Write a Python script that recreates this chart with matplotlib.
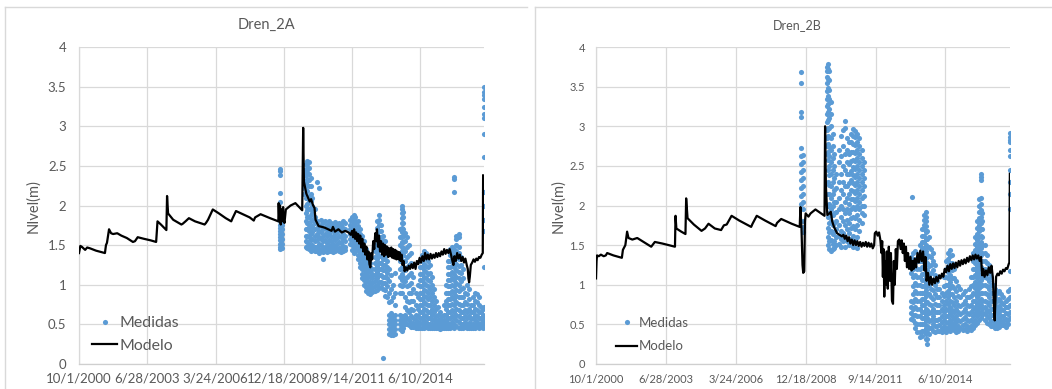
"""Dren_2A / Dren_2B — measured vs modelled water level."""
import matplotlib
matplotlib.use("Agg")
import matplotlib.pyplot as plt
from matplotlib.lines import Line2D

plt.rcParams["font.family"] = ["Lato", "DejaVu Sans"]

W, H = 1052, 389
BLUE = "#5b9bd5"
TEXT = "#595959"
GRID = "#d9d9d9"

# x axis: days since 10/1/2000 (Excel date axis, major unit 1000 days)
TICK_DAYS = [0, 1000, 2000, 3000, 4000, 5000]
TICK_LABELS = ["10/1/2000", "6/28/2003", "3/24/2006", "12/18/2008", "9/14/2011", "6/10/2014"]
Y_TICKS = [0, 0.5, 1, 1.5, 2, 2.5, 3, 3.5, 4]
Y_LABELS = ["0", "0.5", "1", "1.5", "2", "2.5", "3", "3.5", "4"]

# ---- Dren_2A ----
MODELO_2A = [
    (0, 1.40), (20, 1.49), (40, 1.48), (90, 1.44), (120, 1.47), (160, 1.46), (250, 1.43),
    (380, 1.40), (395, 1.50), (410, 1.53), (440, 1.70), (470, 1.65), (500, 1.64), (560, 1.65),
    (620, 1.62), (700, 1.59), (790, 1.54), (820, 1.55), (860, 1.60), (950, 1.58), (1050, 1.56),
    (1130, 1.54), (1150, 1.80), (1200, 1.76), (1280, 1.69), (1290, 2.12), (1305, 1.90),
    (1380, 1.82), (1500, 1.76), (1520, 1.77), (1560, 1.80), (1610, 1.84), (1700, 1.80),
    (1840, 1.76), (1860, 1.78), (1890, 1.82), (1960, 1.95), (2050, 1.90), (2150, 1.84),
    (2230, 1.80), (2250, 1.84), (2300, 1.93), (2400, 1.89), (2500, 1.85), (2560, 1.81),
    (2580, 1.85), (2660, 1.89), (2800, 1.84), (2920, 1.80), (2925, 2.03), (2935, 1.80),
    (2945, 2.00), (2955, 1.76), (2965, 1.95), (2975, 1.80), (2990, 1.98), (3000, 1.82),
    (3010, 1.78), (3030, 1.95), (3100, 2.00), (3170, 2.03), (3270, 1.94), (3284, 2.98),
    (3295, 2.30), (3330, 2.15), (3380, 2.05), (3400, 2.08), (3430, 2.00), (3450, 1.97),
    (3465, 1.82), (3510, 1.74), (3560, 1.73), (3600, 1.72), (3650, 1.70), (3700, 1.68),
    (3720, 1.73), (3750, 1.67), (3800, 1.70), (3850, 1.66), (3900, 1.68), (3950, 1.66),
    (3980, 1.63),
    (4000, 1.68), (4015, 1.60), (4030, 1.70), (4045, 1.58), (4060, 1.66), (4075, 1.55),
    (4090, 1.64), (4105, 1.52), (4120, 1.62), (4135, 1.47), (4150, 1.58), (4165, 1.42),
    (4180, 1.52), (4195, 1.38), (4210, 1.48), (4225, 1.32), (4240, 1.42), (4255, 1.26),
    (4268, 1.22), (4280, 1.40), (4295, 1.32), (4310, 1.55), (4325, 1.45), (4340, 1.65),
    (4355, 1.55), (4365, 1.70), (4380, 1.48), (4395, 1.62), (4410, 1.42), (4425, 1.55),
    (4440, 1.38), (4455, 1.52), (4470, 1.36), (4485, 1.50), (4500, 1.38), (4515, 1.48),
    (4530, 1.35), (4545, 1.46), (4560, 1.36), (4575, 1.47), (4590, 1.34), (4605, 1.45),
    (4620, 1.33), (4635, 1.44), (4650, 1.32), (4665, 1.42), (4680, 1.32), (4695, 1.41),
    (4710, 1.30), (4725, 1.38), (4740, 1.25), (4755, 1.30), (4770, 1.17), (4790, 1.22),
    (4810, 1.18), (4830, 1.24), (4850, 1.20), (4870, 1.26), (4890, 1.21), (4910, 1.28),
    (4930, 1.20), (4950, 1.30), (4970, 1.26), (4990, 1.34), (5010, 1.28), (5030, 1.36),
    (5050, 1.30), (5070, 1.40), (5090, 1.32), (5110, 1.38), (5130, 1.32), (5150, 1.39),
    (5170, 1.33), (5190, 1.38), (5210, 1.34), (5230, 1.40), (5250, 1.35), (5270, 1.40),
    (5290, 1.36), (5310, 1.42), (5330, 1.38), (5350, 1.45), (5370, 1.39), (5390, 1.44),
    (5410, 1.40), (5430, 1.45), (5450, 1.38), (5470, 1.30), (5485, 1.25), (5500, 1.36),
    (5520, 1.30), (5540, 1.40), (5560, 1.33), (5580, 1.38), (5600, 1.30), (5620, 1.35),
    (5640, 1.28), (5660, 1.33), (5680, 1.25), (5695, 1.20), (5705, 1.08), (5715, 1.03),
    (5725, 1.10), (5740, 1.25), (5760, 1.28), (5780, 1.32), (5800, 1.29), (5820, 1.33),
    (5840, 1.31), (5860, 1.35), (5880, 1.34), (5900, 1.38), (5915, 1.40), (5920, 2.38),
]

# measured points, grouped by day: (day, [levels])
MEDIDAS_2A = [
    (2938, [2.46, 2.44, 2.38, 2.16, 2.04, 1.80, 1.76, 1.72, 1.68, 1.64, 1.60, 1.56, 1.52, 1.48, 1.45]),
    (2960, [1.78, 1.72, 1.66, 1.60, 1.55, 1.50, 1.46]),
    (2980, [1.75, 1.70, 1.64, 1.58, 1.52, 1.47]),
    (3300, [2.45, 2.38, 2.30, 2.22, 2.15]),
    (3320, [2.52, 2.45, 2.38, 2.30, 2.20, 2.10, 2.00, 1.90, 1.80, 1.70, 1.62, 1.55, 1.48]),
    (3345, [2.56, 2.50, 2.42, 2.34, 2.26, 2.18, 2.10, 2.02, 1.94, 1.86, 1.78, 1.70, 1.62, 1.54, 1.46]),
    (3370, [2.55, 2.47, 2.40, 2.32, 2.24, 2.12, 2.05, 1.95, 1.85, 1.76, 1.68, 1.60, 1.52, 1.45]),
    (3395, [2.35, 2.25, 2.15, 2.06, 1.96, 1.88, 1.80, 1.72, 1.64, 1.56, 1.48, 1.43]),
    (3420, [2.10, 2.00, 1.90, 1.82, 1.74, 1.66, 1.58, 1.50, 1.44]),
    (3450, [1.95, 1.85, 1.78, 1.70, 1.62, 1.55, 1.48, 1.42]),
    (3480, [2.30, 1.80, 1.72, 1.64, 1.56, 1.48, 1.42]),
    (3510, [2.22, 1.75, 1.68, 1.60, 1.52, 1.45, 1.40]),
    (3540, [1.82, 1.74, 1.66, 1.58, 1.50, 1.43]),
    (3570, [1.78, 1.70, 1.62, 1.55, 1.47, 1.41, 1.32]),
    (3600, [1.80, 1.72, 1.64, 1.56, 1.48, 1.42]),
    (3630, [1.76, 1.69, 1.61, 1.53, 1.46, 1.41]),
    (3660, [1.80, 1.73, 1.65, 1.57, 1.50, 1.43]),
    (3690, [1.78, 1.70, 1.62, 1.55, 1.48, 1.42]),
    (3720, [1.76, 1.68, 1.60, 1.52, 1.45, 1.41]),
    (3750, [1.79, 1.72, 1.64, 1.56, 1.48, 1.42]),
    (3780, [1.75, 1.67, 1.59, 1.52, 1.45]),
    (3810, [1.78, 1.70, 1.62, 1.54, 1.47, 1.42]),
    (3840, [1.76, 1.68, 1.60, 1.53, 1.46, 1.41]),
    (3870, [1.80, 1.72, 1.64, 1.56, 1.49, 1.43]),
    (3895, [1.78, 1.70, 1.62, 1.55, 1.48, 1.44]),
    (3975, [1.82, 1.76, 1.70, 1.64, 1.58, 1.52]),
    (4000, [1.86, 1.80, 1.74, 1.68, 1.62, 1.56, 1.50, 1.44]),
    (4025, [1.88, 1.82, 1.76, 1.70, 1.64, 1.58, 1.52, 1.46, 1.40]),
    (4050, [1.85, 1.78, 1.72, 1.66, 1.60, 1.54, 1.48, 1.42]),
    (4080, [1.80, 1.74, 1.68, 1.62, 1.56, 1.50, 1.44, 1.38, 1.32]),
    (4110, [1.70, 1.64, 1.58, 1.52, 1.46, 1.40, 1.34, 1.28, 1.22]),
    (4140, [1.62, 1.56, 1.50, 1.44, 1.38, 1.32, 1.26, 1.20, 1.14, 1.08]),
    (4170, [1.55, 1.48, 1.42, 1.36, 1.30, 1.24, 1.18, 1.12, 1.06, 1.00]),
    (4200, [1.45, 1.39, 1.33, 1.27, 1.21, 1.15, 1.09, 1.03, 0.97, 0.92]),
    (4230, [1.35, 1.29, 1.23, 1.17, 1.11, 1.05, 0.99, 0.94, 0.90]),
    (4260, [1.28, 1.22, 1.16, 1.10, 1.04, 0.98, 0.93, 0.88]),
    (4290, [1.20, 1.14, 1.08, 1.02, 0.96, 0.91]),
    (4330, [1.50, 1.42, 1.35, 1.28, 1.20, 1.12, 1.05, 0.98, 0.92]),
    (4360, [1.80, 1.72, 1.64, 1.56, 1.48, 1.40, 1.32, 1.24, 1.16, 1.08, 1.00, 0.93]),
    (4390, [1.88, 1.82, 1.75, 1.68, 1.60, 1.52, 1.44, 1.36, 1.28, 1.20, 1.12, 1.04, 0.96]),
    (4420, [1.75, 1.68, 1.60, 1.52, 1.44, 1.36, 1.28, 1.20, 1.12, 1.04, 0.97]),
    (4450, [1.62, 1.55, 1.48, 1.40, 1.32, 1.25, 1.18, 1.10, 1.02, 0.95, 0.07]),
    (4480, [1.55, 1.48, 1.40, 1.32, 1.25, 1.18, 1.10, 1.02, 0.94, 0.86]),
    (4510, [1.45, 1.38, 1.30, 1.22, 1.15, 1.08, 0.98, 0.85]),
    (4540, [1.20, 1.05, 0.90, 0.78, 0.62, 0.56, 0.50, 0.44, 0.38]),
    (4570, [1.12, 0.95, 0.80, 0.64, 0.58, 0.52, 0.46, 0.40, 0.36]),
    (4600, [1.00, 0.85, 0.60, 0.54, 0.48, 0.42, 0.37]),
    (4630, [1.15, 0.90, 0.75, 0.62, 0.56, 0.50, 0.44, 0.38]),
    (4700, [1.70, 1.60, 1.50, 1.40, 1.30, 1.20, 1.10, 1.00, 0.90, 0.62, 0.56, 0.50, 0.44]),
    (4725, [2.00, 1.95, 1.90, 1.84, 1.78, 1.72, 1.66, 1.60, 1.54, 1.48, 1.42, 1.36, 1.30, 1.22,
            1.14, 1.06, 0.98, 0.90, 0.60, 0.54, 0.48, 0.42]),
    (4750, [1.92, 1.85, 1.78, 1.70, 1.62, 1.54, 1.46, 1.38, 1.30, 1.20, 1.10, 1.00, 0.58, 0.52, 0.46]),
    (4780, [1.65, 1.55, 1.42, 1.30, 1.18, 1.05, 0.85, 0.72, 0.62, 0.55, 0.50]),
    (4810, [1.60, 1.48, 1.35, 1.22, 1.10, 0.98, 0.80, 0.68, 0.58, 0.50]),
    (4840, [1.50, 1.38, 1.25, 1.12, 1.00, 0.90, 0.78, 0.66, 0.56, 0.49]),
    (4870, [1.40, 1.28, 1.15, 1.02, 0.90, 0.80, 0.70, 0.60, 0.52, 0.47]),
    (4900, [1.10, 0.95, 0.80, 0.68, 0.58, 0.52, 0.47]),
    (4930, [0.90, 0.75, 0.62, 0.55, 0.50, 0.46]),
    (4960, [1.00, 0.85, 0.70, 0.60, 0.53, 0.48, 0.45]),
    (4990, [1.30, 1.22, 1.14, 1.06, 0.98, 0.90, 0.82, 0.74, 0.66, 0.58, 0.52, 0.46]),
    (5020, [1.38, 1.30, 1.22, 1.14, 1.06, 0.98, 0.90, 0.82, 0.74, 0.66, 0.58, 0.52, 0.46]),
    (5050, [1.42, 1.34, 1.26, 1.18, 1.10, 1.02, 0.94, 0.86, 0.78, 0.70, 0.62, 0.55, 0.49, 0.45]),
    (5080, [1.40, 1.32, 1.24, 1.16, 1.08, 1.00, 0.92, 0.84, 0.76, 0.68, 0.60, 0.53, 0.47]),
    (5110, [1.30, 1.22, 1.14, 1.06, 0.98, 0.90, 0.82, 0.74, 0.66, 0.58, 0.51, 0.46]),
    (5140, [1.25, 1.15, 1.05, 0.95, 0.85, 0.75, 0.66, 0.58, 0.51, 0.45]),
    (5170, [1.10, 1.00, 0.90, 0.80, 0.70, 0.62, 0.55, 0.49, 0.45]),
    (5200, [0.95, 0.85, 0.75, 0.65, 0.57, 0.50, 0.46]),
    (5230, [0.80, 0.70, 0.60, 0.53, 0.48, 0.45]),
    (5260, [0.72, 0.62, 0.55, 0.50, 0.46]),
    (5290, [0.65, 0.57, 0.51, 0.47, 0.44]),
    (5320, [0.60, 0.54, 0.49, 0.45]),
    (5350, [0.75, 0.62, 0.55, 0.50, 0.46]),
    (5380, [1.00, 0.90, 0.80, 0.70, 0.62, 0.55, 0.50, 0.45]),
    (5410, [1.30, 1.22, 1.14, 1.06, 0.98, 0.90, 0.82, 0.74, 0.66, 0.58, 0.52, 0.46]),
    (5440, [1.45, 1.38, 1.30, 1.22, 1.14, 1.06, 0.98, 0.90, 0.82, 0.74, 0.66, 0.58, 0.51, 0.45]),
    (5470, [1.48, 1.40, 1.32, 1.24, 1.16, 1.08, 1.00, 0.92, 0.84, 0.76, 0.68, 0.60, 0.53, 0.47]),
    (5500, [2.36, 2.33, 2.17, 1.45, 1.38, 1.30, 1.22, 1.14, 1.06, 0.98, 0.90, 0.82, 0.74, 0.66,
            0.58, 0.51, 0.45]),
    (5530, [1.62, 1.58, 1.50, 1.42, 1.34, 1.26, 1.18, 1.10, 1.02, 0.94, 0.86, 0.78, 0.70, 0.62, 0.55, 0.48]),
    (5560, [1.64, 1.60, 1.48, 1.40, 1.32, 1.24, 1.16, 1.08, 1.00, 0.92, 0.84, 0.76, 0.68, 0.60, 0.53, 0.46]),
    (5590, [1.35, 1.25, 1.15, 1.05, 0.95, 0.85, 0.75, 0.66, 0.58, 0.51, 0.45]),
    (5620, [1.20, 1.08, 0.96, 0.85, 0.75, 0.66, 0.58, 0.51, 0.46]),
    (5650, [0.90, 0.78, 0.68, 0.60, 0.53, 0.47]),
    (5680, [1.00, 0.88, 0.76, 0.66, 0.58, 0.51, 0.46]),
    (5710, [0.95, 0.82, 0.70, 0.60, 0.52, 0.46]),
    (5740, [0.75, 0.65, 0.57, 0.50, 0.46]),
    (5770, [0.85, 0.75, 0.66, 0.58, 0.51, 0.46]),
    (5800, [0.90, 0.80, 0.70, 0.62, 0.55, 0.49, 0.45]),
    (5830, [0.88, 0.78, 0.68, 0.60, 0.53, 0.48]),
    (5860, [0.85, 0.75, 0.66, 0.58, 0.51, 0.46]),
    (5890, [0.72, 0.65, 0.58, 0.52, 0.47]),
    (5915, [0.70, 0.62, 0.55, 0.50, 0.46]),
    (5930, [3.50, 3.43, 3.40, 3.35, 3.24, 3.16, 3.10, 2.90, 2.61, 2.17, 2.00, 1.82, 1.68, 1.22,
            0.72, 0.60, 0.52]),
]

# ---- Dren_2B ----
MODELO_2B = [
    (0, 1.08), (8, 1.30), (15, 1.37), (40, 1.36), (70, 1.38), (110, 1.36), (140, 1.37), (160, 1.40),
    (250, 1.37), (370, 1.34), (385, 1.44), (420, 1.50), (445, 1.67), (465, 1.59), (520, 1.57),
    (590, 1.59), (700, 1.53), (790, 1.48), (842, 1.54), (950, 1.52), (1130, 1.48), (1138, 1.87),
    (1150, 1.71), (1220, 1.67), (1280, 1.64), (1290, 2.09), (1310, 1.84), (1400, 1.76),
    (1510, 1.68), (1560, 1.71), (1610, 1.77), (1700, 1.71), (1790, 1.69), (1830, 1.75),
    (1870, 1.76), (1940, 1.87), (2050, 1.81), (2220, 1.73), (2240, 1.77), (2300, 1.87),
    (2420, 1.81), (2570, 1.74), (2590, 1.78), (2650, 1.83), (2800, 1.77), (2915, 1.73),
    (2925, 1.98), (2940, 1.72), (2955, 1.25), (2965, 1.15), (2980, 1.17), (2990, 1.80),
    (3000, 1.90), (3040, 1.86), (3070, 1.90), (3140, 1.95), (3270, 1.87), (3278, 3.00),
    (3290, 2.24), (3310, 1.88), (3340, 1.90), (3360, 1.92), (3380, 1.80), (3405, 1.73),
    (3450, 1.65), (3520, 1.61), (3540, 1.63), (3560, 1.58), (3580, 1.62), (3600, 1.55),
    (3620, 1.60), (3640, 1.52), (3660, 1.57), (3680, 1.50), (3700, 1.56), (3720, 1.50),
    (3740, 1.55), (3760, 1.49), (3780, 1.54), (3800, 1.48), (3820, 1.53), (3840, 1.49),
    (3860, 1.54), (3880, 1.48), (3900, 1.53), (3920, 1.48), (3940, 1.52), (3960, 1.46),
    (3980, 1.50), (3990, 1.65), (4010, 1.67), (4030, 1.62), (4050, 1.66), (4070, 1.56),
    (4085, 1.40), (4095, 1.55), (4105, 1.10), (4115, 1.45), (4125, 0.85), (4135, 1.30),
    (4145, 1.00), (4160, 1.42), (4175, 0.95), (4190, 1.48), (4205, 1.05), (4220, 1.40),
    (4235, 0.80), (4250, 0.76), (4262, 1.30), (4275, 1.00), (4290, 1.45), (4305, 1.20),
    (4320, 1.55), (4340, 1.57), (4360, 1.45), (4375, 1.56), (4390, 1.40), (4405, 1.52),
    (4420, 1.30), (4435, 1.48), (4450, 1.22), (4465, 1.40), (4480, 1.20), (4500, 1.35),
    (4515, 1.18), (4530, 1.30), (4545, 1.20), (4560, 1.33), (4580, 1.22), (4600, 1.40),
    (4620, 1.28), (4640, 1.43), (4660, 1.30), (4680, 1.42), (4700, 1.18), (4715, 1.35),
    (4730, 1.05), (4750, 1.15), (4770, 1.00), (4790, 1.10), (4810, 1.00), (4830, 1.08),
    (4850, 1.02), (4870, 1.10), (4890, 1.04), (4910, 1.12), (4930, 1.08), (4950, 1.14),
    (4970, 1.10), (4990, 1.20), (5010, 1.16), (5030, 1.24), (5050, 1.17), (5070, 1.26),
    (5090, 1.20), (5110, 1.27), (5130, 1.21), (5150, 1.28), (5170, 1.22), (5190, 1.30),
    (5210, 1.24), (5230, 1.31), (5250, 1.26), (5270, 1.32), (5290, 1.27), (5310, 1.34),
    (5330, 1.29), (5350, 1.36), (5370, 1.31), (5390, 1.37), (5410, 1.32), (5430, 1.38),
    (5450, 1.33), (5470, 1.37), (5490, 1.30), (5510, 1.35), (5525, 1.12), (5540, 1.20),
    (5560, 1.10), (5580, 1.18), (5600, 1.12), (5620, 1.22), (5640, 1.15), (5660, 1.24),
    (5680, 1.08), (5695, 0.70), (5705, 0.55), (5715, 0.80), (5725, 1.10), (5745, 1.14),
    (5765, 1.12), (5785, 1.17), (5805, 1.14), (5825, 1.19), (5845, 1.17), (5865, 1.21),
    (5885, 1.20), (5905, 1.26), (5915, 1.28), (5922, 2.40),
]

MEDIDAS_2B = [
    (2940, [3.69, 3.55, 3.18, 3.12, 2.72, 2.62, 2.52, 2.42, 2.32, 2.22, 2.12, 2.02]),
    (2955, [2.64, 2.55, 2.45, 2.35, 2.25, 2.15, 2.05, 1.95, 1.80, 1.73, 1.67]),
    (3300, [3.75, 3.70, 3.62, 3.55, 3.45, 3.35, 3.25, 3.15, 3.05, 2.95, 2.85, 2.75, 2.65]),
    (3320, [3.78, 3.72, 3.60, 3.48, 3.38, 3.28, 3.18, 3.08, 2.98, 2.88, 2.78, 2.68, 2.58, 2.45,
            2.30, 2.15, 2.00, 1.85, 1.72, 1.60, 1.50]),
    (3340, [3.70, 3.58, 3.46, 3.34, 3.22, 3.10, 2.98, 2.86, 2.74, 2.62, 2.50, 2.38, 2.26, 2.14,
            2.02, 1.90, 1.78, 1.66, 1.55, 1.45]),
    (3360, [3.30, 3.15, 3.00, 2.85, 2.70, 2.55, 2.40, 2.25, 2.10, 1.95, 1.80, 1.68, 1.56, 1.42]),
    (3385, [2.90, 2.75, 2.60, 2.45, 2.30, 2.15, 2.00, 1.88, 1.76, 1.64, 1.52, 1.45]),
    (3410, [2.65, 2.50, 2.35, 2.20, 2.05, 1.90, 1.78, 1.66, 1.55, 1.47]),
    (3440, [2.40, 2.22, 2.05, 1.92, 1.80, 1.70, 1.60, 1.50]),
    (3470, [2.70, 2.55, 2.30, 2.10, 1.95, 1.75, 1.62, 1.52]),
    (3500, [2.88, 2.62, 2.40, 2.20, 2.00, 1.85, 1.68, 1.58, 1.48]),
    (3530, [2.95, 2.75, 2.50, 2.30, 2.15, 1.95, 1.80, 1.65, 1.55]),
    (3560, [3.06, 2.98, 2.65, 2.45, 2.25, 2.05, 1.90, 1.75, 1.60, 1.48]),
    (3590, [2.85, 2.70, 2.55, 2.40, 2.25, 2.10, 1.95, 1.82, 1.70, 1.55]),
    (3620, [2.80, 2.65, 2.52, 2.40, 2.28, 2.15, 2.02, 1.90, 1.78, 1.65, 1.50]),
    (3650, [2.90, 2.80, 2.68, 2.56, 2.44, 2.32, 2.20, 2.08, 1.96, 1.84, 1.72, 1.58]),
    (3680, [2.96, 2.88, 2.78, 2.68, 2.58, 2.48, 2.38, 2.28, 2.18, 2.08, 1.98, 1.86, 1.74, 1.62, 1.48]),
    (3710, [2.94, 2.86, 2.76, 2.66, 2.56, 2.46, 2.36, 2.26, 2.16, 2.06, 1.96, 1.84, 1.70, 1.55]),
    (3740, [2.90, 2.80, 2.70, 2.60, 2.50, 2.40, 2.30, 2.20, 2.10, 2.00, 1.88, 1.75, 1.60, 1.46]),
    (3770, [2.85, 2.75, 2.65, 2.55, 2.45, 2.35, 2.25, 2.15, 2.05, 1.95, 1.82, 1.68]),
    (3800, [2.70, 2.60, 2.50, 2.40, 2.30, 2.20, 2.10, 2.00, 1.90, 1.78]),
    (3830, [2.55, 2.45, 2.35, 2.25, 2.12, 2.00, 1.88]),
    (4520, [2.11]),
    (4510, [1.35, 1.25, 1.15, 0.80, 0.72, 0.64, 0.57]),
    (4540, [1.40, 1.30, 1.20, 1.10, 0.98, 0.88, 0.78, 0.70, 0.62, 0.55]),
    (4570, [1.42, 1.32, 1.22, 1.12, 1.02, 0.92, 0.82, 0.72, 0.62, 0.52, 0.45]),
    (4600, [1.30, 1.20, 1.10, 1.00, 0.90, 0.80, 0.70, 0.60, 0.50, 0.40]),
    (4630, [1.50, 1.40, 1.30, 1.20, 1.10, 1.00, 0.90, 0.80, 0.70, 0.60, 0.50, 0.40, 0.34]),
    (4660, [1.70, 1.62, 1.54, 1.46, 1.38, 1.30, 1.22, 1.14, 1.06, 0.98, 0.90, 0.82, 0.74, 0.66,
            0.58, 0.50, 0.42, 0.35]),
    (4690, [1.88, 1.82, 1.76, 1.70, 1.62, 1.54, 1.46, 1.38, 1.30, 1.22, 1.14, 1.06, 0.98, 0.90,
            0.82, 0.74, 0.66, 0.58, 0.50, 0.42]),
    (4715, [1.92, 1.86, 1.80, 1.74, 1.66, 1.58, 1.50, 1.42, 1.34, 1.26, 1.18, 1.10, 1.02, 0.94,
            0.86, 0.78, 0.70, 0.62, 0.54, 0.46, 0.38, 0.32]),
    (4740, [1.68, 1.58, 1.48, 1.38, 1.28, 1.18, 1.08, 0.98, 0.88, 0.78, 0.68, 0.58, 0.48, 0.40, 0.32, 0.25]),
    (4765, [1.60, 1.48, 1.36, 1.24, 1.12, 1.00, 0.88, 0.76, 0.64, 0.54, 0.45, 0.38]),
    (4795, [1.45, 1.35, 1.25, 1.15, 1.05, 0.95, 0.85, 0.75, 0.65, 0.55, 0.46]),
    (4825, [1.40, 1.30, 1.18, 1.06, 0.94, 0.82, 0.70, 0.60, 0.50, 0.42]),
    (4855, [1.25, 1.12, 1.00, 0.88, 0.76, 0.66, 0.56, 0.48, 0.41]),
    (4885, [1.05, 0.95, 0.85, 0.75, 0.65, 0.56, 0.48, 0.42]),
    (4915, [0.95, 0.85, 0.75, 0.66, 0.57, 0.49, 0.42]),
    (4945, [0.90, 0.80, 0.70, 0.61, 0.53, 0.46, 0.40]),
    (4975, [1.10, 0.98, 0.86, 0.75, 0.65, 0.56, 0.48, 0.42]),
    (5005, [1.30, 1.20, 1.10, 1.00, 0.90, 0.80, 0.70, 0.61, 0.53, 0.46, 0.40]),
    (5035, [1.40, 1.32, 1.24, 1.16, 1.08, 1.00, 0.92, 0.84, 0.76, 0.68, 0.60, 0.52, 0.45]),
    (5065, [1.44, 1.36, 1.28, 1.20, 1.12, 1.04, 0.96, 0.88, 0.80, 0.72, 0.64, 0.56, 0.48, 0.42]),
    (5095, [1.38, 1.28, 1.18, 1.08, 0.98, 0.88, 0.78, 0.68, 0.60, 0.52, 0.45]),
    (5125, [1.20, 1.08, 0.96, 0.85, 0.75, 0.66, 0.57, 0.49, 0.43]),
    (5155, [1.05, 0.92, 0.80, 0.70, 0.61, 0.53, 0.46, 0.41]),
    (5185, [0.98, 0.86, 0.75, 0.65, 0.56, 0.48, 0.42]),
    (5215, [0.95, 0.84, 0.73, 0.63, 0.54, 0.46]),
    (5245, [0.88, 0.76, 0.66, 0.57, 0.49, 0.43]),
    (5275, [0.92, 0.80, 0.69, 0.59, 0.50, 0.44]),
    (5305, [0.85, 0.74, 0.64, 0.55, 0.48, 0.42]),
    (5335, [0.95, 0.84, 0.73, 0.63, 0.54, 0.46]),
    (5365, [1.10, 0.98, 0.86, 0.75, 0.65, 0.56, 0.48, 0.43]),
    (5395, [1.40, 1.30, 1.20, 1.10, 1.00, 0.90, 0.80, 0.70, 0.61, 0.53, 0.46]),
    (5425, [1.60, 1.52, 1.44, 1.36, 1.28, 1.20, 1.12, 1.04, 0.96, 0.88, 0.80, 0.72, 0.64, 0.56, 0.49]),
    (5455, [1.80, 1.72, 1.64, 1.56, 1.48, 1.40, 1.32, 1.24, 1.16, 1.08, 1.00, 0.92, 0.84, 0.76,
            0.68, 0.60, 0.52]),
    (5485, [2.08, 2.00, 1.92, 1.84, 1.76, 1.68, 1.60, 1.52, 1.44, 1.36, 1.28, 1.20, 1.12, 1.04,
            0.96, 0.88, 0.80, 0.72, 0.64, 0.56]),
    (5505, [2.40, 2.36, 2.32, 2.10, 2.02, 1.94, 1.86, 1.78, 1.70, 1.62, 1.54, 1.46, 1.38, 1.30,
            1.22, 1.14, 1.06, 0.98, 0.90, 0.82, 0.74, 0.66, 0.58]),
    (5530, [1.90, 1.80, 1.70, 1.60, 1.50, 1.40, 1.30, 1.20, 1.10, 1.00, 0.90, 0.80, 0.70, 0.62]),
    (5560, [1.50, 1.40, 1.30, 1.20, 1.10, 1.00, 0.90, 0.80, 0.72, 0.64, 0.56]),
    (5590, [1.38, 1.28, 1.18, 1.08, 0.98, 0.88, 0.78, 0.68, 0.60, 0.52]),
    (5620, [1.25, 1.15, 1.05, 0.95, 0.85, 0.75, 0.66, 0.58, 0.50]),
    (5650, [1.10, 1.00, 0.90, 0.80, 0.70, 0.62, 0.54, 0.48]),
    (5680, [1.00, 0.90, 0.80, 0.70, 0.62, 0.54, 0.48]),
    (5710, [0.95, 0.85, 0.75, 0.66, 0.58, 0.51, 0.46]),
    (5740, [0.90, 0.80, 0.71, 0.63, 0.56, 0.50, 0.46]),
    (5770, [0.92, 0.82, 0.73, 0.65, 0.58, 0.52, 0.47]),
    (5800, [0.88, 0.78, 0.69, 0.61, 0.54, 0.49]),
    (5830, [0.85, 0.76, 0.68, 0.60, 0.54, 0.49]),
    (5860, [0.80, 0.72, 0.64, 0.57, 0.51, 0.47]),
    (5890, [0.92, 0.82, 0.72, 0.63, 0.56, 0.50]),
    (5920, [2.91, 2.87, 2.83, 2.80, 2.70, 2.62, 2.45, 2.30, 2.15, 1.95, 1.17, 0.95, 0.85, 0.75,
            0.65, 0.58]),
]


def flatten(groups):
    xs, ys = [], []
    for day, levels in groups:
        for v in levels:
            xs.append(day)
            ys.append(v)
    return xs, ys


def draw_panel(ax, modelo, medidas, xmax, fs):
    """fs: dict of font sizes (the two Excel charts were scaled differently)."""
    mx, my = flatten(medidas)
    ax.plot(mx, my, "o", ms=3.7, mew=0, color=BLUE, label="Medidas", zorder=2)
    ax.plot([d for d, _ in modelo], [v for _, v in modelo], color="black",
            lw=1.6, label="Modelo", zorder=3)

    ax.set_xlim(0, xmax)
    ax.set_ylim(0, 4)
    ax.set_xticks(TICK_DAYS, TICK_LABELS)
    ax.set_yticks(Y_TICKS, Y_LABELS)
    ax.tick_params(length=0, colors=TEXT, labelsize=fs["tick"])
    ax.tick_params(axis="x", pad=fs["xpad"])
    ax.tick_params(axis="y", pad=fs["ypad"])
    ax.grid(True, color=GRID, lw=0.9)
    ax.set_axisbelow(True)
    for side in ("top", "right"):
        ax.spines[side].set_visible(False)
    ax.spines["left"].set_color(GRID)
    ax.spines["bottom"].set_color("#cfcfcf")
    ax.spines["left"].set_linewidth(0.9)
    ax.spines["bottom"].set_linewidth(0.9)


fig = plt.figure(figsize=(W / 100, H / 100), dpi=100)

ax_a = fig.add_axes([79 / W, 25 / H, 405 / W, 317 / H])
ax_b = fig.add_axes([596 / W, 25 / H, 414 / W, 317 / H])

draw_panel(ax_a, MODELO_2A, MEDIDAS_2A, 5933, {"tick": 9.5, "xpad": 6, "ypad": 9})
draw_panel(ax_b, MODELO_2B, MEDIDAS_2B, 5924, {"tick": 8.0, "xpad": 7, "ypad": 8})

# titles and y labels sit on the Excel chart area, not on the plot area
fig.text(266 / W, 1 - 25 / H, "Dren_2A", ha="center", va="center", color=TEXT, fontsize=10.5)
fig.text(797 / W, 1 - 25 / H, "Dren_2B", ha="center", va="center", color=TEXT, fontsize=9)
fig.text(33 / W, 1 - 206 / H, "NIvel(m)", rotation=90, ha="center", va="center", color=TEXT, fontsize=10.5)
fig.text(558 / W, 1 - 206 / H, "NIvel(m)", rotation=90, ha="center", va="center", color=TEXT, fontsize=10.5)

ax_a.legend(loc="upper left", bbox_to_anchor=(92 / W, 1 - 316 / H), bbox_transform=fig.transFigure,
            frameon=False, fontsize=11.4, handlelength=1.6, handletextpad=0.15,
            labelspacing=0.55, borderpad=0, borderaxespad=0, labelcolor=TEXT)
ax_b.legend(loc="upper left", bbox_to_anchor=(616 / W, 1 - 317 / H), bbox_transform=fig.transFigure,
            frameon=False, fontsize=9.5, handlelength=1.6, handletextpad=0.15,
            labelspacing=0.85, borderpad=0, borderaxespad=0, labelcolor=TEXT)

# chart-area borders
for xs, ys in [([5, 5], [389, 7]), ([5, 527], [7, 7]), ([535, 535], [389, 7]), ([535, 1052], [7, 7])]:
    fig.add_artist(Line2D([x / W for x in xs], [1 - y / H for y in ys],
                          transform=fig.transFigure, color=GRID, lw=1.0))

fig.savefig("out.png", dpi=100, facecolor="white")
plt.close(fig)
